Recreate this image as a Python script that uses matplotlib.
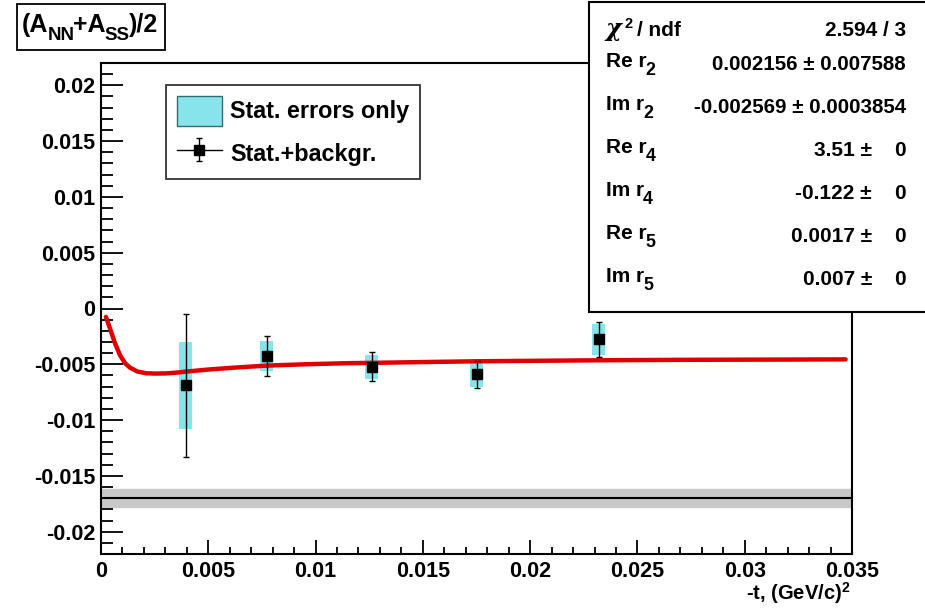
import numpy as np
import matplotlib
matplotlib.use("Agg")
import matplotlib.pyplot as plt
from matplotlib.patches import Rectangle, Patch
from matplotlib.lines import Line2D
from matplotlib.ticker import MultipleLocator, FuncFormatter

plt.rcParams['font.family'] = ['Liberation Sans', 'DejaVu Sans']
plt.rcParams['font.weight'] = 'bold'
plt.rcParams['mathtext.fontset'] = 'custom'
plt.rcParams['mathtext.rm'] = 'Liberation Sans:bold'
plt.rcParams['mathtext.bf'] = 'Liberation Sans:bold'
plt.rcParams['mathtext.it'] = 'Liberation Sans:bold'

# data points: -t, asymmetry, stat error, stat+background error
t_pts = [0.00395, 0.00772, 0.01261, 0.0175, 0.0232]
a_pts = [-0.0069, -0.00426, -0.00524, -0.0059, -0.00277]
stat_err = [0.0039, 0.00134, 0.0011, 0.0011, 0.0014]
tot_err = [0.0064, 0.0018, 0.0013, 0.0012, 0.0016]
box_halfwidth = 0.0003

# fit curve
fit_t = [0.00023, 0.00042, 0.00065, 0.00089, 0.00112, 0.00135, 0.0017, 0.0021, 0.0025,
         0.003, 0.0035, 0.004, 0.005, 0.0062, 0.0077, 0.0095, 0.0115, 0.0127, 0.015,
         0.0175, 0.02, 0.0232, 0.027, 0.031, 0.0347]
fit_a = [-0.00075, -0.0018, -0.0031, -0.0042, -0.0049, -0.0053, -0.00565, -0.0058, -0.00583,
         -0.00582, -0.00575, -0.00565, -0.00547, -0.0053, -0.00512, -0.005, -0.0049, -0.00487, -0.0048,
         -0.00473, -0.00469, -0.00464, -0.0046, -0.00458, -0.00456]

# horizontal band
band_center = -0.017
band_half = 0.00082

stat_names = ['Re r', 'Im r', 'Re r', 'Im r', 'Re r', 'Im r']
stat_index = ['2', '2', '4', '4', '5', '5']
stat_values = ['0.002156 \u00b1 0.007588', '-0.002569 \u00b1 0.0003854',
               '3.51 \u00b1', '-0.122 \u00b1', '0.0017 \u00b1', '0.007 \u00b1']
stat_zero = [False, False, True, True, True, True]
chi2_text = '2.594 / 3'

W, H = 925, 610
fig = plt.figure(figsize=(9.25, 6.1), dpi=100)
renderer = fig.canvas.get_renderer()
ax = fig.add_axes([101/W, 1-554/H, 751/W, 491/H])


def put_parts(x, y, parts, size):
    # parts: (text, gap before in px, drop in px, size factor, extra kwargs)
    for s, dx, dy, sc, extra in parts:
        x += dx
        t = fig.text(x/W, 1-(y+dy)/H, s, fontsize=size*sc, ha='left', va='baseline',
                     zorder=6, **extra)
        x += t.get_window_extent(renderer).width


cyan = '#86e4ea'
ax.axhspan(band_center-band_half, band_center+band_half, color='#c8c8c8', zorder=1)
ax.axhline(band_center, color='black', lw=1.5, zorder=2)

for t, a, s in zip(t_pts, a_pts, stat_err):
    ax.add_patch(Rectangle((t-box_halfwidth, a-s), 2*box_halfwidth, 2*s,
                           facecolor=cyan, edgecolor='none', zorder=3))

ax.plot(fit_t, fit_a, color='#e00000', lw=3.2, zorder=4, solid_capstyle='round')

eb = ax.errorbar(t_pts, a_pts, yerr=tot_err, fmt='s', color='black', ms=7.5,
                 elinewidth=1, capsize=2.5, capthick=1, zorder=5)

ax.set_xlim(0, 0.035)
ax.set_ylim(-0.022, 0.022)
fmt = FuncFormatter(lambda v, p: '%g' % round(v, 6))
ax.xaxis.set_major_locator(MultipleLocator(0.005))
ax.xaxis.set_minor_locator(MultipleLocator(0.001))
ax.yaxis.set_major_locator(MultipleLocator(0.005))
ax.yaxis.set_minor_locator(MultipleLocator(0.001))
ax.xaxis.set_major_formatter(fmt)
ax.yaxis.set_major_formatter(fmt)
ax.tick_params(axis='both', which='both', direction='in', top=False, right=False,
               labelsize=15.5, width=1.3)
ax.tick_params(axis='y', which='major', length=16, pad=4)
ax.tick_params(axis='y', which='minor', length=8.5)
ax.tick_params(axis='x', which='major', length=10, pad=5)
ax.tick_params(axis='x', which='minor', length=5)
for sp in ax.spines.values():
    sp.set_linewidth(1.5)

leg_box = Patch(facecolor=cyan, edgecolor='#2f6f70', linewidth=1)
leg_line = Line2D([], [], color='black', lw=1)
leg = ax.legend([leg_box, (leg_line, eb)], ['Stat. errors only', 'Stat.+backgr.'],
                loc='upper left', bbox_to_anchor=(0.0866, 0.955), fontsize=16.8,
                frameon=True, fancybox=False, edgecolor='black', borderpad=0.45,
                handlelength=1.95, handleheight=1.6, labelspacing=0.55, handletextpad=0.35,
                borderaxespad=0)
leg.get_frame().set_linewidth(1.3)

fig.text(850/W, 1-600/H, '-t, (GeV/c)$^{2}$', ha='right', va='baseline', fontsize=14.5)

# title box
fig.add_artist(Rectangle((17/W, 1-50/H), 148/W, 46/H, transform=fig.transFigure,
                         facecolor='white', edgecolor='black', lw=1.3, zorder=5))
put_parts(22, 32, [('(A', 0, 0, 1, {}), ('NN', -1, 8, 0.75, {}), ('+A', -1, 0, 1, {}),
                   ('SS', -1, 8, 0.75, {}), (')/2', -1, 0, 1, {})], 18)

# stats box
fig.add_artist(Rectangle((589/W, 1-312/H), 400/W, 310/H, transform=fig.transFigure,
                         facecolor='white', edgecolor='black', lw=1.5, zorder=5,
                         clip_on=False))
put_parts(604, 36, [('$\\chi$', 0, 0, 1.15, {'math_fontfamily': 'dejavuserif', 'fontweight': 'normal'}),
                    ('2', 0, -8, 0.7, {}), ('/ ndf', 5, 0, 1, {})], 15)
fig.text(906/W, 1-36/H, chi2_text, ha='right', va='baseline', fontsize=15, zorder=6)

lab_base = [70, 113, 156, 199, 242, 285]
for name, idx, val, z, yb in zip(stat_names, stat_index, stat_values, stat_zero, lab_base):
    put_parts(606, yb - 3, [(name, 0, 0, 1, {}), (idx, -1, 8, 0.85, {})], 15)
    if z:
        fig.text(872/W, 1-yb/H, val, ha='right', va='baseline', fontsize=15, zorder=6)
        fig.text(906/W, 1-yb/H, '0', ha='right', va='baseline', fontsize=15, zorder=6)
    else:
        fig.text(906/W, 1-yb/H, val, ha='right', va='baseline', fontsize=14.8, zorder=6)

fig.savefig('out.png', dpi=100)
